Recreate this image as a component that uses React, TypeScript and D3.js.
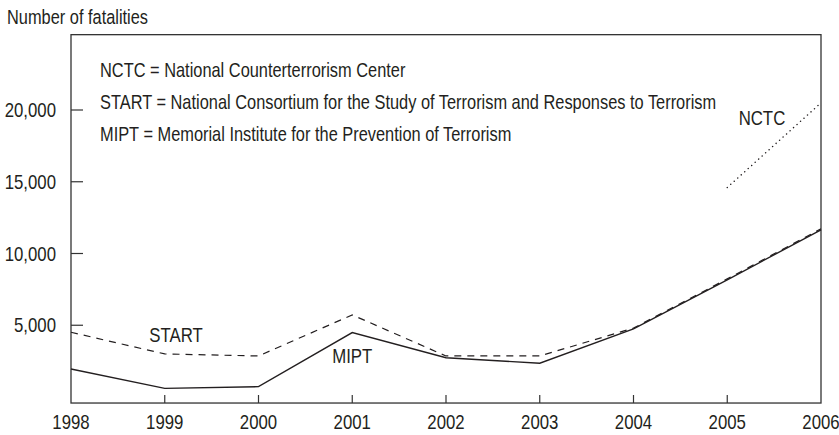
import React, { useRef, useEffect } from "react";
import * as d3 from "d3";

// chart values
const years = [1998, 1999, 2000, 2001, 2002, 2003, 2004, 2005, 2006];
const mipt = [1950, 600, 720, 4490, 2740, 2350, 4750, 8170, 11650];
const start = [4510, 3000, 2860, 5720, 2860, 2860, 4800, 8230, 11720];
const nctcYears = [2005, 2006];
const nctc = [14600, 20500];
const yTicks = [5000, 10000, 15000, 20000];
const notes = [
  "NCTC = National Counterterrorism Center",
  "START = National Consortium for the Study of Terrorism and Responses to Terrorism",
  "MIPT = Memorial Institute for the Prevention of Terrorism",
];

const W = 839;
const H = 435;
const FONT = "'Liberation Sans', Arial, sans-serif";
const SX = 0.84; // squeeze to mimic a condensed face
const INK = "#231f20";

const place = (x: number, y: number, sx = SX) => `translate(${x},${y}) scale(${sx},1)`;

function App() {
  const svgRef = useRef<SVGSVGElement>(null);

  useEffect(() => {
    const svg = d3.select(svgRef.current);
    svg.selectAll("*").remove();

    const x = d3.scaleLinear().domain([1998, 2006]).range([71, 821]);
    const y = d3.scaleLinear().domain([0, 20000]).range([397, 110]);

    // frame
    const top = y(25250);
    const bottom = y(-420);
    svg
      .append("rect")
      .attr("x", x(1998))
      .attr("y", top)
      .attr("width", x(2006) - x(1998))
      .attr("height", bottom - top)
      .attr("fill", "none")
      .attr("stroke", "#333")
      .attr("stroke-width", 1.3);

    // y axis ticks (inside)
    svg
      .selectAll(".ytick")
      .data(yTicks)
      .join("line")
      .attr("x1", x(1998))
      .attr("x2", x(1998) + 12)
      .attr("y1", (d) => y(d))
      .attr("y2", (d) => y(d))
      .attr("stroke", "#333")
      .attr("stroke-width", 1.2);

    svg
      .selectAll(".ylab")
      .data(yTicks)
      .join("text")
      .attr("transform", (d) => place(x(1998) - 15, y(d) + 7))
      .attr("text-anchor", "end")
      .attr("font-family", FONT)
      .attr("font-size", 20)
      .attr("fill", INK)
      .text((d) => d3.format(",")(d));

    // x axis ticks (inside)
    svg
      .selectAll(".xtick")
      .data(years.slice(1, -1))
      .join("line")
      .attr("x1", (d) => x(d))
      .attr("x2", (d) => x(d))
      .attr("y1", bottom)
      .attr("y2", bottom - 8)
      .attr("stroke", "#333")
      .attr("stroke-width", 1.2);

    svg
      .selectAll(".xlab")
      .data(years)
      .join("text")
      .attr("transform", (d) => place(x(d), bottom + 26))
      .attr("text-anchor", "middle")
      .attr("font-family", FONT)
      .attr("font-size", 20)
      .attr("fill", INK)
      .text((d) => d);

    const line = d3
      .line<number>()
      .x((_, i) => x(years[i]))
      .y((d) => y(d));

    svg
      .append("path")
      .attr("d", line(start))
      .attr("fill", "none")
      .attr("stroke", INK)
      .attr("stroke-width", 1.2)
      .attr("stroke-dasharray", "7,6");

    svg
      .append("path")
      .attr("d", line(mipt))
      .attr("fill", "none")
      .attr("stroke", INK)
      .attr("stroke-width", 1.4);

    const nctcLine = d3
      .line<number>()
      .x((_, i) => x(nctcYears[i]))
      .y((d) => y(d));

    svg
      .append("path")
      .attr("d", nctcLine(nctc))
      .attr("fill", "none")
      .attr("stroke", INK)
      .attr("stroke-width", 1.4)
      .attr("stroke-linecap", "round")
      .attr("stroke-dasharray", "0.1,4.6");

    // series labels
    const labels = [
      { t: "START", x: x(1999.12), y: y(3800) },
      { t: "MIPT", x: x(2001.0), y: y(2360) },
      { t: "NCTC", x: x(2005.37), y: y(18950) },
    ];
    svg
      .selectAll(".slab")
      .data(labels)
      .join("text")
      .attr("transform", (d) => place(d.x, d.y))
      .attr("text-anchor", "middle")
      .attr("font-family", FONT)
      .attr("font-size", 20)
      .attr("fill", INK)
      .text((d) => d.t);

    // notes
    svg
      .selectAll(".note")
      .data(notes)
      .join("text")
      .attr("transform", (_, i) => place(100, 77 + i * 32, 0.82))
      .attr("font-family", FONT)
      .attr("font-size", 20)
      .attr("fill", INK)
      .text((d) => d);

    svg
      .append("text")
      .attr("transform", place(7, 24))
      .attr("font-family", FONT)
      .attr("font-size", 19.5)
      .attr("fill", INK)
      .text("Number of fatalities");
  }, []);

  return (
    <svg
      ref={svgRef}
      width={W}
      height={H}
      style={{ position: "absolute", left: 0, top: 0, background: "#fff" }}
    />
  );
}

export default App;
